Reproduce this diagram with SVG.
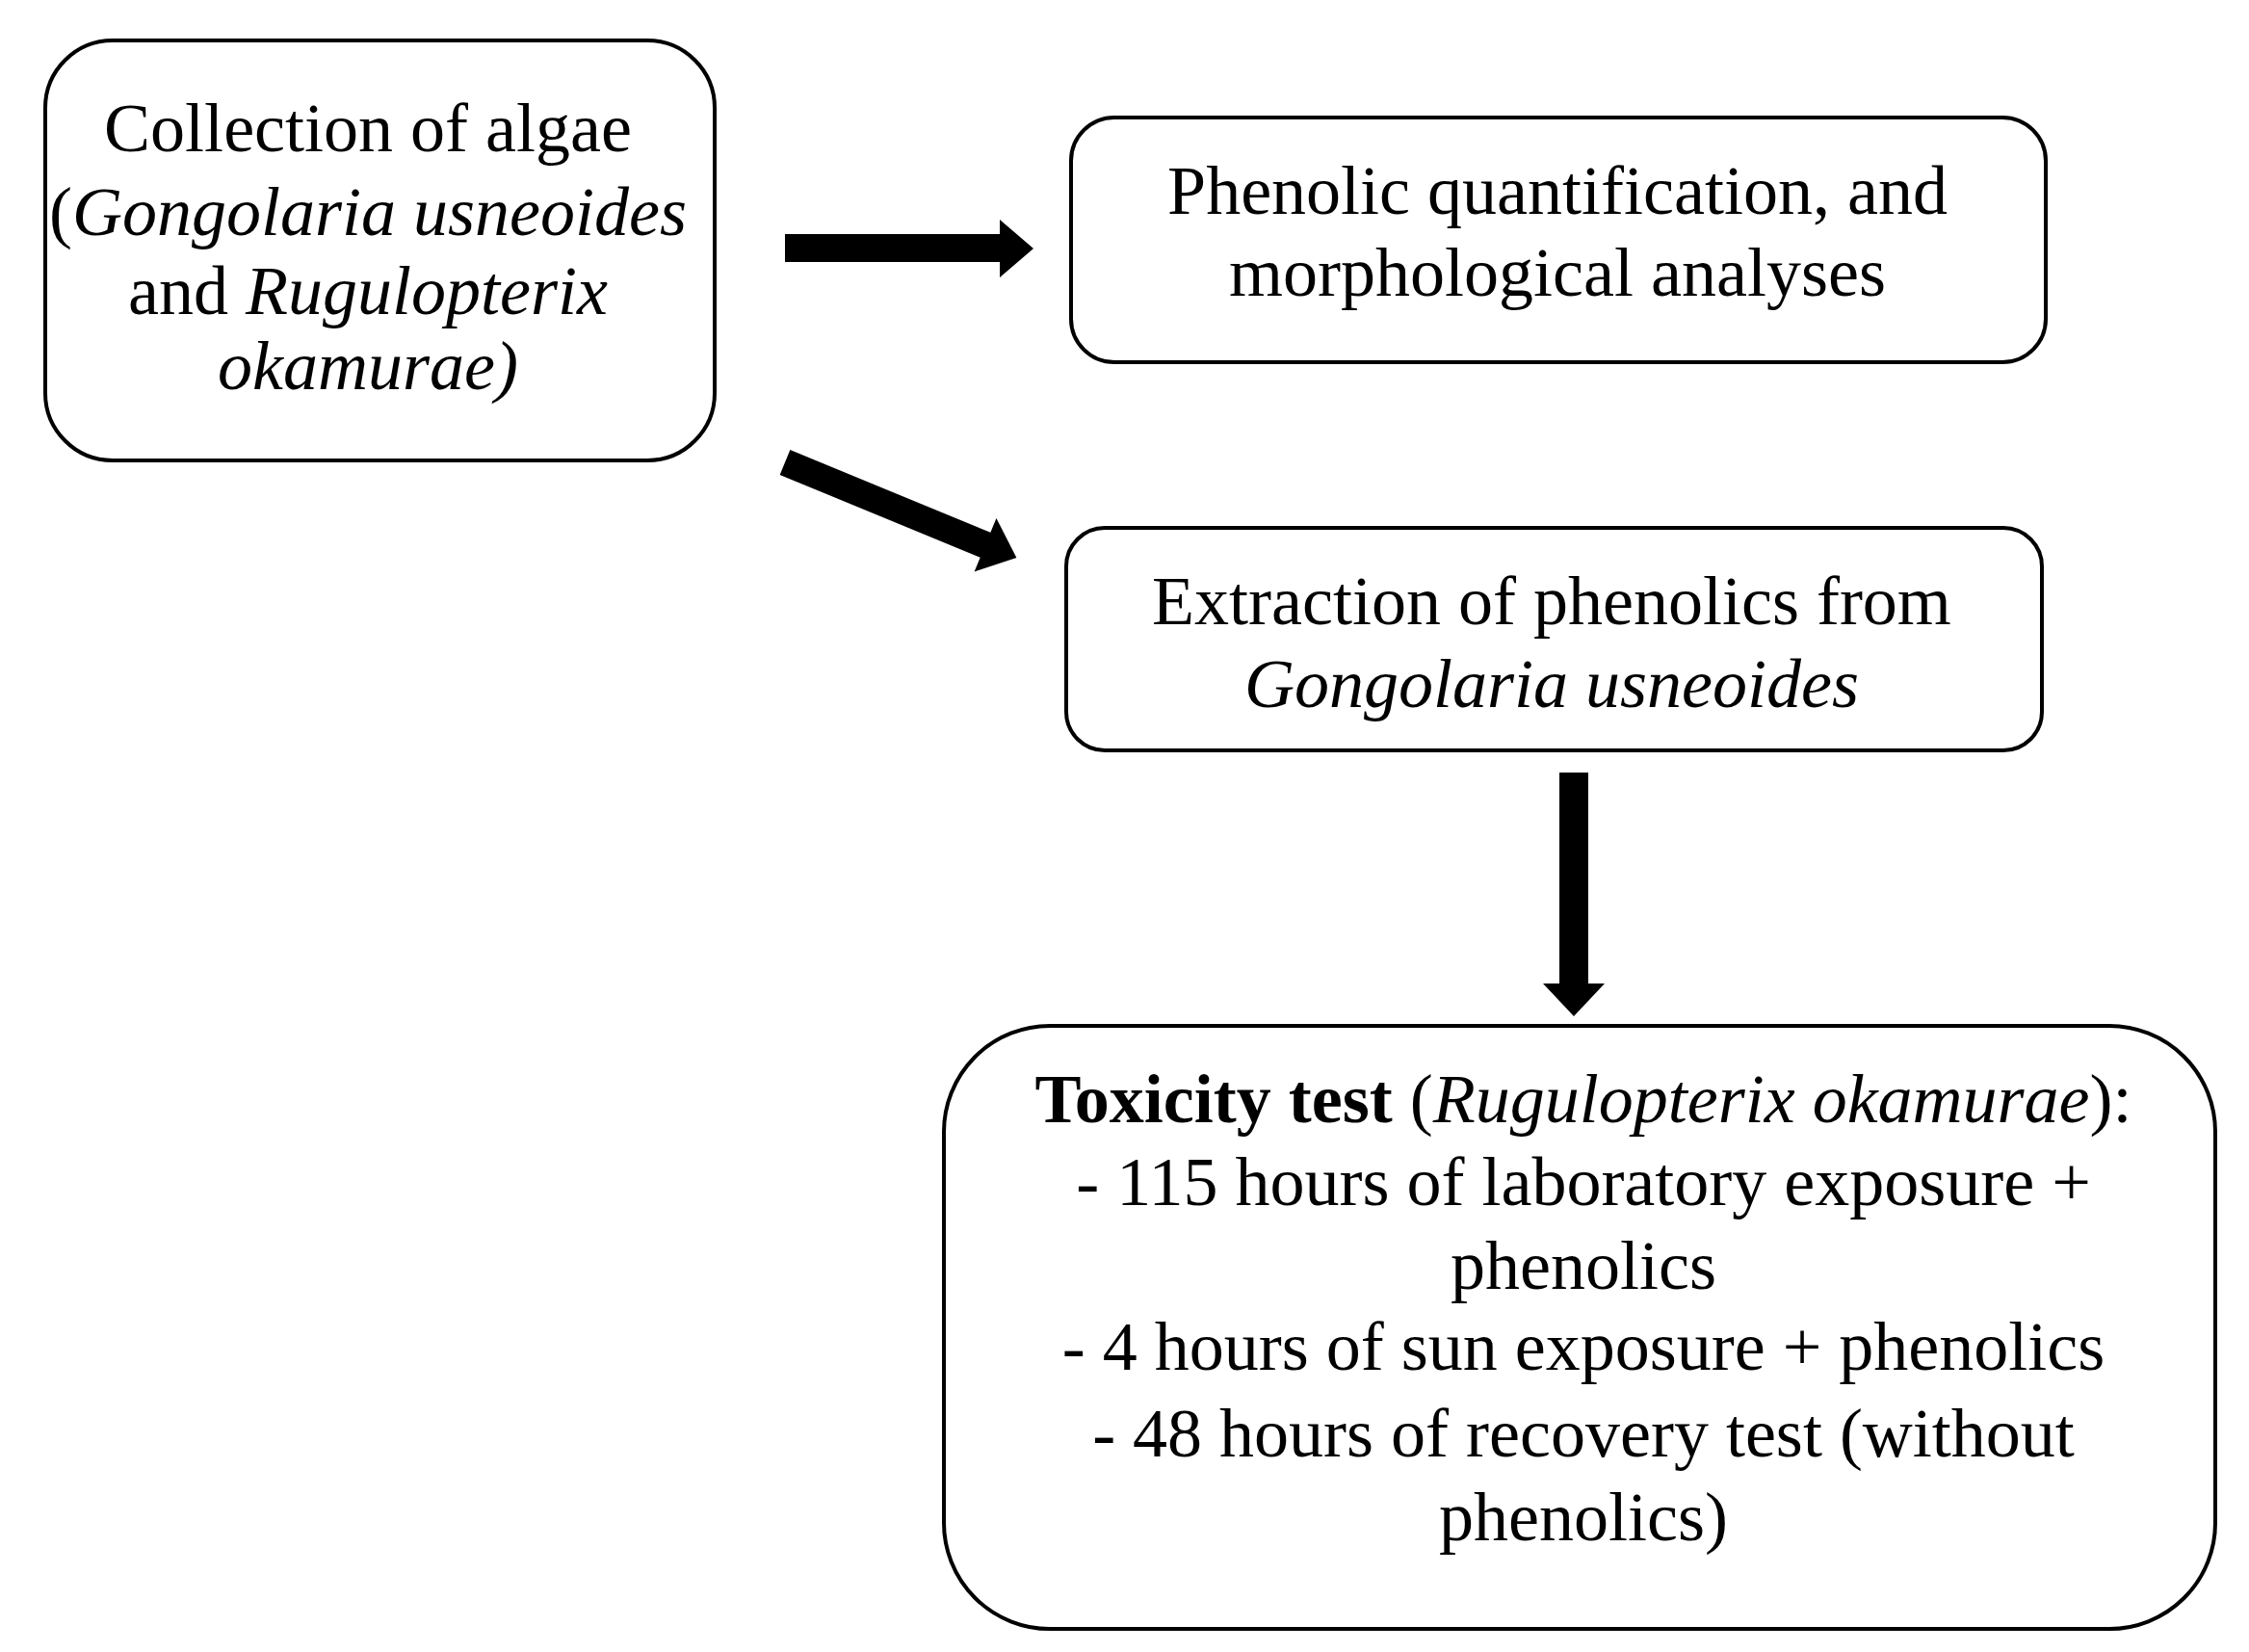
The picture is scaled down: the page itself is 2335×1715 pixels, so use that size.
<svg xmlns="http://www.w3.org/2000/svg" width="2335" height="1715" viewBox="0 0 2335 1715">
<style>
.box{fill:#fff;stroke:#000;stroke-width:4}
text{font-family:"Liberation Serif","Times New Roman",serif;font-size:72px;fill:#000;text-anchor:middle}
.i{font-style:italic}
.b{font-weight:bold}
.arr{fill:#000}
</style>
<rect width="2335" height="1715" fill="#fff"/>
<g id="n1">
<rect class="box" x="47" y="42" width="695" height="436" rx="70"/>
<text x="382" y="157">Collection of algae</text>
<text x="382" y="244">(<tspan class="i">Gongolaria usneoides</tspan></text>
<text x="382" y="326">and <tspan class="i">Rugulopterix</tspan></text>
<text x="382" y="404" class="i">okamurae)</text>
</g>
<g id="n2">
<rect class="box" x="1112" y="122" width="1012" height="254" rx="45"/>
<text x="1617" y="222">Phenolic quantification, and</text>
<text x="1617" y="307">morphological  analyses</text>
</g>
<g id="n3">
<rect class="box" x="1107" y="548" width="1013" height="231" rx="40"/>
<text x="1611" y="648">Extraction of phenolics from</text>
<text x="1611" y="734" class="i">Gongolaria usneoides</text>
</g>
<g id="n4">
<rect class="box" x="980" y="1065" width="1320" height="626" rx="110"/>
<text x="1644" y="1165"><tspan class="b">Toxicity test</tspan> (<tspan class="i">Rugulopterix okamurae</tspan>):</text>
<text x="1644" y="1251">- 115 hours of laboratory exposure +</text>
<text x="1644" y="1338">phenolics</text>
<text x="1644" y="1422">- 4 hours of sun exposure + phenolics</text>
<text x="1644" y="1512">- 48 hours of recovery test (without</text>
<text x="1644" y="1599">phenolics)</text>
</g>
<g id="connectors">
<polygon class="arr" points="815,243 1038,243 1038,228 1073,258 1038,288 1038,272 815,272"/>
<polygon class="arr" transform="translate(815,480) rotate(22.4)" points="0,-14 225,-14 225,-30 260,0 225,30 225,14 0,14"/>
<polygon class="arr" points="1619,802 1649,802 1649,1021 1666,1021 1634,1055 1602,1021 1619,1021"/>
</g>
</svg>
